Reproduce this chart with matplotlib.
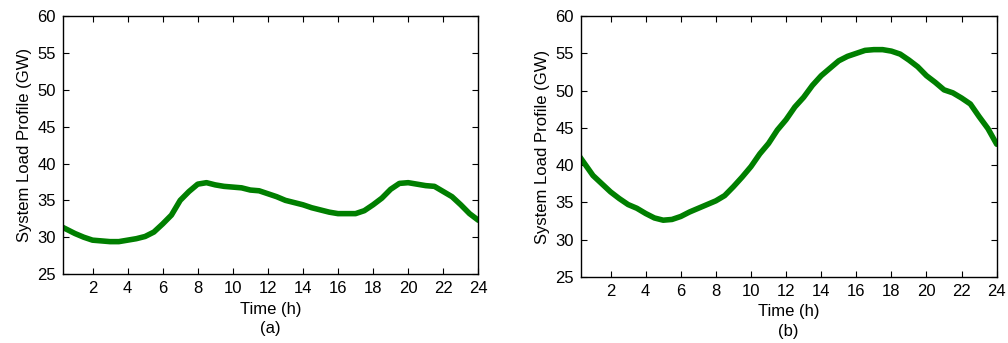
import matplotlib
matplotlib.use("Agg")
import matplotlib.pyplot as plt
import numpy as np

plt.rcParams['font.family'] = ['Liberation Sans', 'DejaVu Sans']

# time axis (h), half-hour readings
hours = [0.25, 1.0, 1.5, 2.0, 2.5, 3.0, 3.5, 4.0, 4.5, 5.0, 5.5, 6.0, 6.5, 7.0, 7.5, 8.0,
         8.5, 9.0, 9.5, 10.0, 10.5, 11.0, 11.5, 12.0, 12.5, 13.0, 13.5, 14.0, 14.5, 15.0,
         15.5, 16.0, 16.5, 17.0, 17.5, 18.0, 18.5, 19.0, 19.5, 20.0, 20.5, 21.0, 21.5,
         22.0, 22.5, 23.0, 23.5, 24.0]

# (a) load profile, GW
load_a = [31.4, 30.5, 30.0, 29.6, 29.5, 29.4, 29.4, 29.6, 29.8, 30.1, 30.7, 31.8, 33.0,
          35.0, 36.2, 37.2, 37.4, 37.1, 36.9, 36.8, 36.7, 36.4, 36.3, 35.9, 35.5, 35.0,
          34.7, 34.4, 34.0, 33.7, 33.4, 33.2, 33.2, 33.2, 33.6, 34.4, 35.3, 36.5, 37.3,
          37.4, 37.2, 37.0, 36.9, 36.2, 35.5, 34.4, 33.2, 32.3]

# (b) load profile, GW
load_b = [41.1, 38.6, 37.5, 36.4, 35.5, 34.7, 34.2, 33.5, 32.9, 32.6, 32.7, 33.1, 33.7,
          34.2, 34.7, 35.2, 35.9, 37.1, 38.4, 39.8, 41.5, 42.9, 44.7, 46.1, 47.8, 49.1,
          50.7, 52.0, 53.0, 54.0, 54.6, 55.0, 55.4, 55.5, 55.5, 55.3, 54.9, 54.1, 53.2,
          52.0, 51.1, 50.1, 49.7, 49.0, 48.2, 46.5, 44.9, 42.8]

xticks = list(range(2, 25, 2))
yticks = list(range(25, 61, 5))

fig = plt.figure(figsize=(10.08, 3.43), dpi=100)
ax1 = fig.add_axes([0.0622, 0.201, 0.4123, 0.752])
ax2 = fig.add_axes([0.5761, 0.193, 0.4127, 0.760])

for ax, load, tag in [(ax1, load_a, '(a)'), (ax2, load_b, '(b)')]:
    ax.plot(hours, load, color='#007f00', lw=4.0, solid_capstyle='round')
    ax.set_xlim(0.3, 24)
    ax.set_ylim(25, 60)
    ax.set_xticks(xticks)
    ax.set_yticks(yticks)
    ax.tick_params(direction='in', length=4, width=0.8, top=True, right=True,
                   labelsize=12, pad=5)
    ax.set_ylabel('System Load Profile (GW)', fontsize=12, labelpad=4)
    ax.set_xlabel('Time (h)\n' + tag, fontsize=12, labelpad=4, linespacing=1.35)
    for s in ax.spines.values():
        s.set_linewidth(1.0)

fig.savefig('out.png', dpi=100)
